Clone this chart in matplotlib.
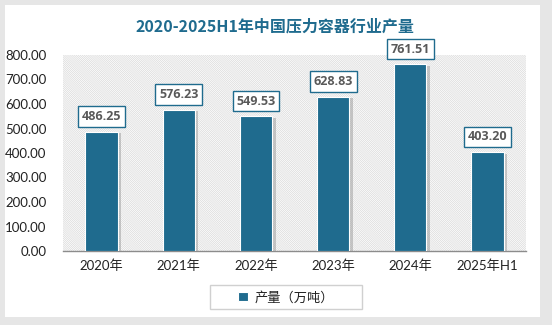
import matplotlib.pyplot as plt
import matplotlib.patheffects as pe
from matplotlib.patches import Rectangle

plt.rcParams['font.family'] = ['Lato', 'Noto Sans CJK SC', 'DejaVu Sans']
plt.rcParams['hatch.linewidth'] = 0.5
plt.rcParams['hatch.color'] = '#d9d9d9'

# data
years = ['2020年', '2021年', '2022年', '2023年', '2024年', '2025年H1']
output = [486.25, 576.23, 549.53, 628.83, 761.51, 403.20]
yticks = [0, 100, 200, 300, 400, 500, 600, 700, 800]

teal = '#1f6b8e'

fig = plt.figure(figsize=(5.52, 3.25), dpi=100, facecolor='#e6e6e6')
# white card
fig.patches.append(Rectangle((5 / 552, 8 / 325), 535 / 552, 312 / 325,
                             transform=fig.transFigure, facecolor='white',
                             edgecolor='none', zorder=0))
# legend frame (wider than the legend content, as in the reference)
fig.patches.append(Rectangle((210 / 552, 1 - 309 / 325), 152 / 552, 24 / 325,
                             transform=fig.transFigure, facecolor='white',
                             edgecolor='#d0d0d0', linewidth=1, zorder=1))

ax = fig.add_axes([63 / 552, 74 / 325, 463 / 552, 196 / 325])
ax.set_zorder(2)
ax.set_facecolor('white')
ax.patch.set_hatch('\\' * 16)
ax.patch.set_edgecolor('#d9d9d9')
ax.patch.set_linewidth(0)

x = list(range(len(years)))
bars = ax.bar(x, output, width=0.42, color=teal, edgecolor='white',
              linewidth=0.8, label='产量（万吨）', zorder=3)
for b in bars:
    b.set_path_effects([pe.SimplePatchShadow(offset=(2.5, -1), shadow_rgbFace='#9a9a9a', alpha=0.5),
                        pe.Normal()])

for xi, v in zip(x, output):
    ax.annotate(f'{v:.2f}', (xi, v), xytext=(0, 11), textcoords='offset points',
                ha='center', va='center', fontsize=9, fontweight='bold', color='#595959',
                family=['Open Sans', 'DejaVu Sans'],
                bbox=dict(boxstyle='square,pad=0.3', facecolor='white', edgecolor=teal, linewidth=1),
                zorder=5)

ax.set_xlim(-0.5, len(years) - 0.5)
ax.set_ylim(0, 800)
ax.set_yticks(yticks)
ax.set_yticklabels([f'{t:.2f}' for t in yticks])
ax.set_xticks(x)
ax.set_xticklabels(years)
ax.tick_params(axis='both', length=0, labelsize=9.5, colors='#222222')
ax.tick_params(axis='y', pad=12)
ax.tick_params(axis='x', pad=6)
for s in ['top', 'right', 'left']:
    ax.spines[s].set_visible(False)
ax.spines['bottom'].set_color('#8c8c8c')
ax.spines['bottom'].set_linewidth(1)

fig.text(275 / 552, 1 - 27 / 325, '2020-2025H1年中国压力容器行业产量', ha='center', va='center',
         fontsize=11.5, fontweight='bold', color=teal,
         family=['Noto Sans CJK SC', 'DejaVu Sans'])

leg = fig.legend(handles=[bars], labels=['产量（万吨）'], loc='center',
                 bbox_to_anchor=(286 / 552, 1 - 297 / 325), fontsize=9.5,
                 frameon=False, handlelength=0.7, handleheight=0.7,
                 borderpad=0.3, borderaxespad=0, handletextpad=0.5)
leg.set_zorder(3)
leg.get_texts()[0].set_color('#222222')
leg.legend_handles[0].set_path_effects([])

fig.savefig('out.png', dpi=100, facecolor=fig.get_facecolor())
